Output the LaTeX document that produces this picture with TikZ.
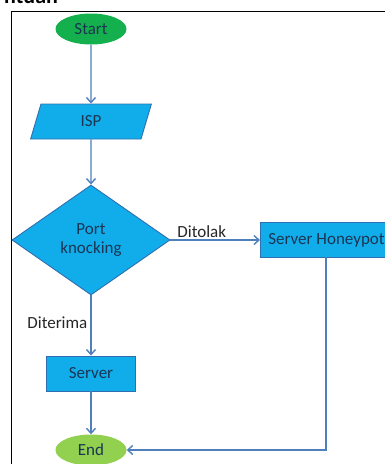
\documentclass[tikz,border=0pt]{standalone}
\usepackage{fontspec}
\setmainfont{Carlito}
\usetikzlibrary{shapes.geometric,arrows.meta}
\definecolor{boxfill}{HTML}{11ADEB}
\definecolor{boxline}{HTML}{2F6FB0}
\definecolor{txtblue}{HTML}{1B3553}
\definecolor{darkgreen}{HTML}{14B04E}
\definecolor{lightgreen}{HTML}{92D050}
\definecolor{arrowcol}{HTML}{4F7FBD}
\tikzset{
  shapebox/.style={draw=boxline, fill=boxfill, line width=0.9pt, text=txtblue, font=\fontsize{17}{19}\selectfont},
  procbox/.style={shapebox, rectangle, minimum height=35pt, inner sep=2pt},
  term/.style={ellipse, minimum width=71pt, minimum height=31pt, inner sep=0pt, text=txtblue, font=\fontsize{17}{19}\selectfont},
  arr/.style={draw=arrowcol, line width=1.4pt, -{Straight Barb[length=5pt,width=9pt]}},
  lbl/.style={text=black!85, font=\fontsize{17}{19}\selectfont, inner sep=1pt}
}
\begin{document}
\begin{tikzpicture}[x=1pt,y=1pt]
\useasboundingbox (0,0) rectangle (385,-464);
\begin{scope}
\clip (0,0) rectangle (385,-464);
\fill[white] (0,0) rectangle (385,-464);
\node[anchor=base west, font=\bfseries\fontsize{22}{24}\selectfont, inner sep=0pt] (frag) at (4,-3) {ntuan};
\draw[black, line width=1.8pt] (11.5,-470) -- (11.5,-11.5) -- (390,-11.5);

\node[term, fill=darkgreen] (start) at (91,-29) {Start};
\node[shapebox, trapezium, trapezium left angle=79, trapezium right angle=101, trapezium stretches=true, minimum width=121pt, minimum height=35pt, inner sep=0pt] (isp) at (91,-121.5) {ISP};
\node[shapebox, diamond, aspect=1.44, minimum width=158pt, minimum height=110pt, inner sep=0pt, align=center] (pk) at (91,-240) {Port\\[0pt]knocking};
\node[procbox, minimum width=132pt, anchor=west] (hp) at (260,-240) {Server Honeypot};
\node[procbox, minimum width=89pt] (srv) at (91,-373.5) {Server};
\node[term, fill=lightgreen] (end) at (91,-450) {End};

\coordinate (hpdown) at (326,-257);
\draw[arr] (start) -- (isp);
\draw[arr] (isp) -- (pk);
\draw[arr] (pk) -- node[lbl, above, pos=0.35, yshift=1pt] {Ditolak} (hp);
\draw[arr] (pk) -- node[lbl, left, pos=0.46, xshift=-2pt] {Diterima} (srv);
\draw[arr] (srv) -- (end);
\draw[arr] (hpdown) |- (end.east);
\end{scope}
\end{tikzpicture}
\end{document}
